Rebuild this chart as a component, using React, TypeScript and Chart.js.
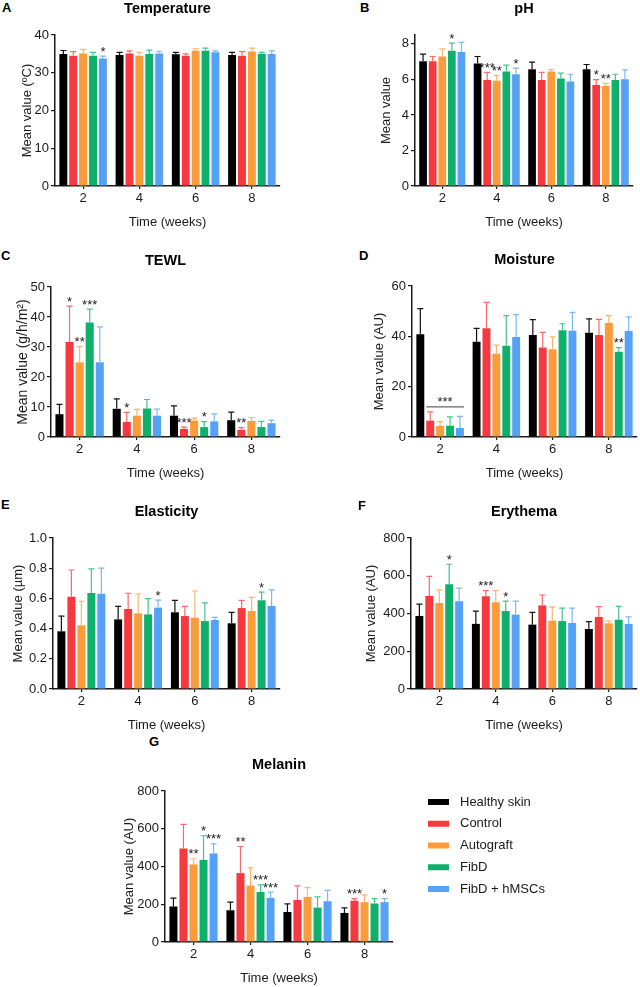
import { useEffect, useRef } from "react";
import { Chart, registerables } from "chart.js";

Chart.register(...registerables);

const FONT = '"Liberation Sans", Arial, Helvetica, sans-serif';
const INK = "#1a1a1a";

// Shared categories and groups
const weeks = ["2", "4", "6", "8"];
const groups = ["Healthy skin", "Control", "Autograft", "FibD", "FibD + hMSCs"];
const groupColors = ["#000000", "#f5393e", "#fb9c3a", "#0fb06b", "#54a1f6"];
const errorColors = ["#111111", "#f76a6e", "#fcb469", "#45c38c", "#7cb7f8"];

// A — Temperature (mean, SD, significance per group x week)
const temperatureMean = [
  [35.0, 34.7, 34.9, 34.7],
  [34.5, 35.1, 34.5, 34.5],
  [35.1, 34.5, 35.8, 35.6],
  [34.5, 35.0, 35.8, 35.0],
  [33.8, 35.1, 35.4, 35.0],
];
const temperatureSd = [
  [0.9, 0.7, 0.5, 0.7],
  [1.1, 0.7, 0.5, 1.1],
  [1.1, 0.9, 0.5, 0.9],
  [0.9, 1.0, 0.7, 0.4],
  [0.6, 0.6, 0.4, 0.8],
];
const temperatureSig = [
  ["", "", "", ""],
  ["", "", "", ""],
  ["", "", "", ""],
  ["", "", "", ""],
  ["*", "", "", ""],
];

// B — pH
const phMean = [
  [7.02, 6.89, 6.57, 6.57],
  [7.02, 5.97, 5.97, 5.69],
  [7.29, 5.92, 6.44, 5.63],
  [7.61, 6.44, 6.05, 5.97],
  [7.55, 6.29, 5.88, 6.01],
];
const phSd = [
  [0.4, 0.4, 0.4, 0.27],
  [0.27, 0.43, 0.43, 0.3],
  [0.43, 0.3, 0.11, 0.15],
  [0.43, 0.36, 0.3, 0.32],
  [0.54, 0.34, 0.41, 0.53],
];
const phSig = [
  ["", "", "", ""],
  ["", "***", "", "*"],
  ["", "**", "", "**"],
  ["*", "", "", ""],
  ["", "*", "", ""],
];

// C — TEWL
const tewlMean = [
  [7.6, 9.4, 7.1, 5.6],
  [31.7, 5.0, 2.7, 2.4],
  [24.9, 7.1, 5.5, 5.4],
  [38.2, 9.5, 3.3, 3.3],
  [24.9, 7.1, 5.2, 4.6],
];
const tewlSd = [
  [3.3, 3.3, 3.3, 2.7],
  [11.9, 3.2, 0.6, 0.7],
  [5.2, 2.1, 0.8, 1.1],
  [4.4, 3.0, 1.8, 1.9],
  [11.8, 2.2, 2.5, 1.0],
];
const tewlSig = [
  ["", "", "", ""],
  ["*", "*", "***", "**"],
  ["**", "", "", ""],
  ["***", "", "*", ""],
  ["", "", "", ""],
];

// D — Moisture
const moistureMean = [
  [40.8, 37.8, 40.5, 41.4],
  [6.5, 43.2, 35.6, 40.5],
  [4.4, 33.1, 34.9, 45.3],
  [4.5, 36.3, 42.4, 33.9],
  [3.6, 39.7, 42.2, 42.1],
];
const moistureSd = [
  [10.2, 5.4, 6.1, 5.5],
  [3.5, 10.3, 6.0, 6.2],
  [1.7, 3.4, 4.9, 2.9],
  [3.5, 11.9, 2.6, 1.6],
  [4.6, 8.9, 7.3, 5.6],
];
const moistureSig = [
  ["", "", "", ""],
  ["", "", "", ""],
  ["", "", "", ""],
  ["", "", "", "**"],
  ["", "", "", ""],
];
// bracket over groups 1..4 at week 2
const moistureBracket = { week: 0, from: 1, to: 4, value: 12, label: "***" };

// E — Elasticity
const elasticityMean = [
  [0.382, 0.461, 0.508, 0.435],
  [0.611, 0.53, 0.483, 0.536],
  [0.422, 0.501, 0.472, 0.517],
  [0.636, 0.494, 0.45, 0.587],
  [0.631, 0.539, 0.457, 0.55],
];
const elasticitySd = [
  [0.101, 0.086, 0.079, 0.073],
  [0.177, 0.104, 0.064, 0.051],
  [0.159, 0.128, 0.177, 0.09],
  [0.159, 0.104, 0.12, 0.055],
  [0.17, 0.05, 0.018, 0.106],
];
const elasticitySig = [
  ["", "", "", ""],
  ["", "", "", ""],
  ["", "", "", ""],
  ["", "", "", "*"],
  ["", "*", "", ""],
];

// F — Erythema
const erythemaMean = [
  [387, 345, 341, 318],
  [493, 491, 443, 382],
  [456, 459, 362, 348],
  [555, 413, 360, 367],
  [465, 394, 350, 345],
];
const erythemaSd = [
  [63, 68, 65, 39],
  [104, 30, 55, 54],
  [69, 62, 73, 12],
  [106, 53, 68, 71],
  [69, 72, 78, 37],
];
const erythemaSig = [
  ["", "", "", ""],
  ["", "***", "", ""],
  ["", "", "", ""],
  ["*", "*", "", ""],
  ["", "", "", ""],
];

// G — Melanin
const melaninMean = [
  [188, 168, 159, 154],
  [496, 365, 223, 219],
  [411, 299, 239, 211],
  [435, 265, 182, 204],
  [469, 234, 216, 211],
];
const melaninSd = [
  [44, 43, 43, 27],
  [127, 141, 74, 11],
  [30, 94, 49, 39],
  [128, 38, 57, 26],
  [51, 30, 57, 19],
];
const melaninSig = [
  ["", "", "", ""],
  ["", "**", "", "***"],
  ["**", "", "", ""],
  ["*", "***", "", ""],
  ["***", "***", "", "*"],
];

type Bracket = { week: number; from: number; to: number; value: number; label: string };

type PanelSpec = {
  letter: string;
  title: string;
  yTitle: string;
  yTitleSize: number;
  min: number;
  max: number;
  step: number;
  decimals: number;
  mean: number[][];
  sd: number[][];
  sig: string[][];
  bracket?: Bracket;
  legend?: boolean;
  // plot frame on the page
  left: number;
  right: number;
  top: number;
  bottom: number;
  yTitleX: number;
  letterX: number;
  letterY: number;
};

const panels: PanelSpec[] = [
  {
    letter: "A", title: "Temperature", yTitle: "Mean value (ºC)", yTitleSize: 13,
    min: 0, max: 40, step: 10, decimals: 0,
    mean: temperatureMean, sd: temperatureSd, sig: temperatureSig,
    left: 55, right: 280, top: 35, bottom: 186, yTitleX: 28, letterX: 2, letterY: 0,
  },
  {
    letter: "B", title: "pH", yTitle: "Mean value", yTitleSize: 13,
    min: 0, max: 8.5, step: 2, decimals: 0,
    mean: phMean, sd: phSd, sig: phSig,
    left: 415, right: 633, top: 35, bottom: 186, yTitleX: 387, letterX: 360, letterY: 0,
  },
  {
    letter: "C", title: "TEWL", yTitle: "Mean value (g/h/m²)", yTitleSize: 14,
    min: 0, max: 50, step: 10, decimals: 0,
    mean: tewlMean, sd: tewlSd, sig: tewlSig,
    left: 51, right: 280, top: 287, bottom: 437, yTitleX: 23, letterX: 1, letterY: 248,
  },
  {
    letter: "D", title: "Moisture", yTitle: "Mean value (AU)", yTitleSize: 13,
    min: 0, max: 60, step: 20, decimals: 0,
    mean: moistureMean, sd: moistureSd, sig: moistureSig, bracket: moistureBracket,
    left: 412, right: 637, top: 286, bottom: 437, yTitleX: 380, letterX: 359, letterY: 248,
  },
  {
    letter: "E", title: "Elasticity", yTitle: "Mean value (µm)", yTitleSize: 13,
    min: 0, max: 1, step: 0.2, decimals: 1,
    mean: elasticityMean, sd: elasticitySd, sig: elasticitySig,
    left: 53, right: 280, top: 538, bottom: 689, yTitleX: 19, letterX: 1, letterY: 497,
  },
  {
    letter: "F", title: "Erythema", yTitle: "Mean value (AU)", yTitleSize: 13,
    min: 0, max: 800, step: 200, decimals: 0,
    mean: erythemaMean, sd: erythemaSd, sig: erythemaSig,
    left: 411, right: 637, top: 538, bottom: 689, yTitleX: 372, letterX: 358, letterY: 498,
  },
  {
    letter: "G", title: "Melanin", yTitle: "Mean value (AU)", yTitleSize: 13,
    min: 0, max: 800, step: 200, decimals: 0,
    mean: melaninMean, sd: melaninSd, sig: melaninSig, legend: true,
    left: 165, right: 393, top: 791, bottom: 942, yTitleX: 130, letterX: 149, letterY: 734,
  },
];

const PAD_TOP = 35;
const X_AXIS_H = 44;

function makeDecorPlugin(spec: PanelSpec) {
  return {
    id: "panelDecor",
    afterDatasetsDraw(chart: any) {
      const { ctx } = chart;
      const yScale = chart.scales.y;
      ctx.save();
      chart.data.datasets.forEach((ds: any, di: number) => {
        const meta = chart.getDatasetMeta(di);
        meta.data.forEach((bar: any, i: number) => {
          const p = bar.getProps(["x", "y", "width"], true);
          const topPx = yScale.getPixelForValue(ds.data[i] + spec.sd[di][i]);
          ctx.strokeStyle = errorColors[di];
          ctx.lineWidth = 1.2;
          ctx.beginPath();
          ctx.moveTo(p.x, p.y);
          ctx.lineTo(p.x, topPx);
          ctx.moveTo(p.x - 3, topPx);
          ctx.lineTo(p.x + 3, topPx);
          ctx.stroke();
          const mark = spec.sig[di][i];
          if (mark) {
            ctx.fillStyle = INK;
            ctx.font = `13px ${FONT}`;
            ctx.textAlign = "center";
            ctx.textBaseline = "alphabetic";
            ctx.fillText(mark, p.x, topPx - 0.5);
          }
        });
      });
      const br = spec.bracket;
      if (br) {
        const a = chart.getDatasetMeta(br.from).data[br.week].getProps(["x", "width"], true);
        const b = chart.getDatasetMeta(br.to).data[br.week].getProps(["x", "width"], true);
        const yy = yScale.getPixelForValue(br.value);
        ctx.strokeStyle = "#666666";
        ctx.lineWidth = 1.2;
        ctx.beginPath();
        ctx.moveTo(a.x - a.width / 2, yy);
        ctx.lineTo(b.x + b.width / 2, yy);
        ctx.stroke();
        ctx.fillStyle = INK;
        ctx.font = `13px ${FONT}`;
        ctx.textAlign = "center";
        ctx.textBaseline = "alphabetic";
        ctx.fillText(br.label, (a.x + b.x) / 2, yy - 1);
      }
      ctx.restore();
    },
    afterDraw(chart: any) {
      const { ctx, chartArea } = chart;
      ctx.save();
      ctx.fillStyle = "#000";
      ctx.font = `bold 14.5px ${FONT}`;
      ctx.textAlign = "center";
      ctx.textBaseline = "middle";
      ctx.fillText(spec.title, (chartArea.left + chartArea.right) / 2, chartArea.top - 26);
      if (spec.legend) {
        ctx.font = `13px ${FONT}`;
        ctx.textAlign = "left";
        chart.data.datasets.forEach((ds: any, di: number) => {
          const cy = chartArea.top + 11 + di * 21.75;
          ctx.fillStyle = ds.backgroundColor;
          ctx.fillRect(chartArea.right + 35, cy - 3, 21, 6);
          ctx.fillStyle = INK;
          ctx.fillText(ds.label, chartArea.right + 67, cy);
        });
      }
      ctx.restore();
    },
  };
}

function Panel({ spec }: { spec: PanelSpec }) {
  const ref = useRef<HTMLCanvasElement | null>(null);
  const titleHalf = (spec.yTitleSize * 1.2) / 2;
  const x0 = Math.round(spec.yTitleX - titleHalf);
  const y0 = spec.top - PAD_TOP;
  const padRight = spec.legend ? 640 - spec.right : 6;
  const width = spec.right - x0 + padRight;
  const height = PAD_TOP + (spec.bottom - spec.top) + X_AXIS_H;
  const yAxisW = spec.left - x0;

  useEffect(() => {
    if (!ref.current) return;
    const chart = new Chart(ref.current, {
      type: "bar",
      data: {
        labels: weeks,
        datasets: groups.map((g, gi) => ({
          label: g,
          data: spec.mean[gi],
          backgroundColor: groupColors[gi],
          borderWidth: 0,
          categoryPercentage: 0.88,
          barPercentage: 0.8,
        })),
      },
      options: {
        responsive: false,
        animation: false,
        devicePixelRatio: 1,
        layout: { padding: { top: PAD_TOP, right: padRight, bottom: 0, left: 0 } },
        plugins: {
          legend: { display: false },
          tooltip: { enabled: false },
          title: { display: false },
        },
        scales: {
          x: {
            grid: { display: true, drawOnChartArea: false, offset: false, tickLength: 3, color: INK, lineWidth: 1.2 },
            border: { display: true, color: INK, width: 1.5 },
            ticks: { color: INK, font: { family: FONT, size: 13 }, padding: 2 },
            title: { display: true, text: "Time (weeks)", color: INK, font: { family: FONT, size: 13 }, padding: 0 },
            afterFit: (s: any) => {
              s.height = X_AXIS_H;
            },
          },
          y: {
            min: spec.min,
            max: spec.max,
            grid: { display: true, drawOnChartArea: false, tickLength: 4, color: INK, lineWidth: 1.2 },
            border: { display: true, color: INK, width: 1.5 },
            ticks: {
              stepSize: spec.step,
              includeBounds: false,
              color: INK,
              padding: 2,
              font: { family: FONT, size: 13 },
              callback: (v: any) => Number(v).toFixed(spec.decimals),
            },
            title: {
              display: true,
              text: spec.yTitle,
              color: INK,
              font: { family: FONT, size: spec.yTitleSize },
              padding: 0,
            },
            afterFit: (s: any) => {
              s.width = yAxisW;
            },
          },
        },
      },
      plugins: [makeDecorPlugin(spec)],
    } as any);
    return () => chart.destroy();
  }, []);

  return (
    <canvas
      ref={ref}
      width={width}
      height={height}
      style={{ position: "absolute", left: x0, top: y0, width, height }}
    />
  );
}

export default function App() {
  return (
    <div
      style={{
        position: "absolute",
        left: 0,
        top: 0,
        width: 640,
        height: 987,
        background: "#ffffff",
        overflow: "hidden",
        fontFamily: FONT,
      }}
    >
      {panels.map((p) => (
        <Panel key={p.letter} spec={p} />
      ))}
      {panels.map((p) => (
        <div
          key={`lbl-${p.letter}`}
          style={{
            position: "absolute",
            left: p.letterX,
            top: p.letterY,
            fontWeight: "bold",
            fontSize: 13,
            lineHeight: "16px",
            color: "#000",
          }}
        >
          {p.letter}
        </div>
      ))}
    </div>
  );
}
